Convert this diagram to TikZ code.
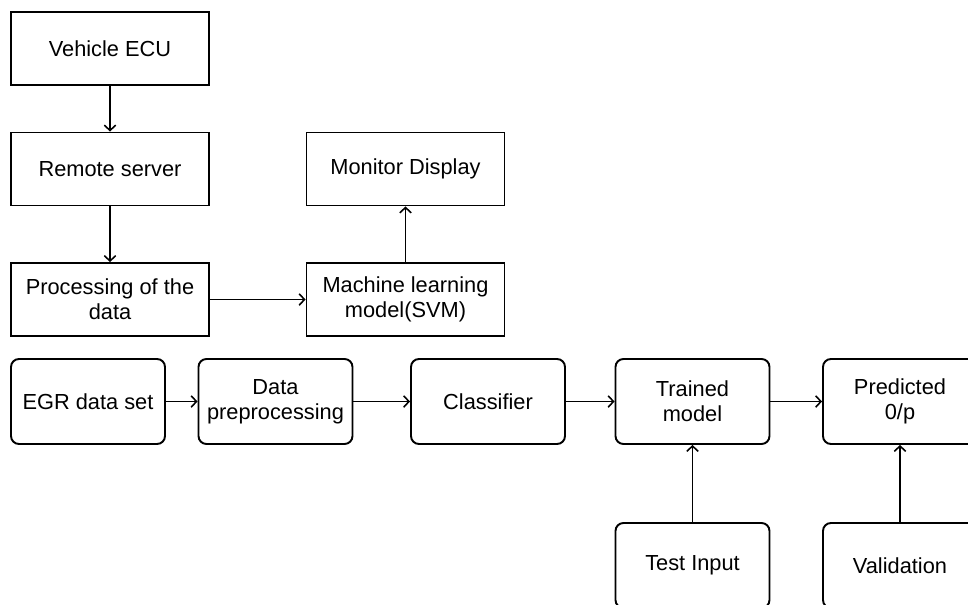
\documentclass[tikz,border=0pt]{standalone}
\usepackage{fontspec}
\setmainfont{Liberation Sans}
\usetikzlibrary{arrows.meta}

\begin{document}
\begin{tikzpicture}[
		box/.style = {draw, line width=1.1pt, minimum width=3.96cm, minimum height=1.46cm, align=center, font=\fontsize{12.4}{14.2}\selectfont},
		rbox/.style = {box, rounded corners=0.16cm, inner xsep=1pt, minimum width=3.08cm, minimum height=1.70cm},
		arr/.style = {-{Straight Barb[length=3pt, width=6.5pt]}, line width=0.9pt}
	]
			\def\row{4.05};
			\def\low{0.77};

			\clip (0,0) rectangle (19.36,12.08);

			% upper flow
			\node[box] (ecu) at (2.2,11.11) {Vehicle ECU};
			\node[box] (server) at (2.2,8.70) {Remote server};
			\node[box] (proc) at (2.2,6.09) {Processing of the\\data};
			\node[box] (monitor) at (8.11,8.70) {Monitor Display};
			\node[box] (svm) at (8.11,6.09) {Machine learning\\model(SVM)};

			\draw[arr] (ecu) -- (server);
			\draw[arr] (server) -- (proc);
			\draw[arr] (proc) -- (svm);
			\draw[arr] (svm) -- (monitor);

			% training flow
			\node[rbox] (egr) at (1.76,\row) {EGR data set};
			\node[rbox] (prep) at (5.51,\row) {Data\\preprocessing};
			\node[rbox] (clf) at (9.76,\row) {Classifier};
			\node[rbox] (trained) at (13.85,\row) {Trained\\model};
			\node[rbox] (pred) at (18.0,\row) {Predicted\\0/p};
			\node[rbox] (test) at (13.85,\low) {Test Input};
			\node[rbox] (valid) at (18.0,\low) {Validation};

			\draw[arr] (egr) -- (prep);
			\draw[arr] (prep) -- (clf);
			\draw[arr] (clf) -- (trained);
			\draw[arr] (trained) -- (pred);
			\draw[arr] (test) -- (trained);
			\draw[arr] (valid) -- (pred);
		\end{tikzpicture}
\end{document}
